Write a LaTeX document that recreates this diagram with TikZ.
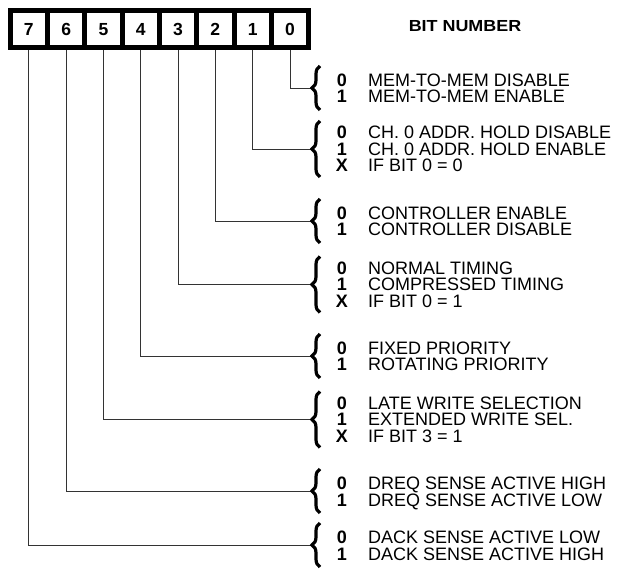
\documentclass[tikz,border=0pt]{standalone}
\usepackage{fontspec}
\setmainfont{Liberation Sans}
\newfontfamily\titlefont{Liberation Sans}[FakeStretch=1.12]
\usetikzlibrary{decorations.pathreplacing}
\tikzset{
	regcell/.style={draw, line width=5pt, minimum width=37.3pt, minimum height=36.5pt, inner sep=0pt, font=\fontsize{17.5}{17.5}\selectfont\bfseries},
	bitval/.style={anchor=base, inner sep=0pt, font=\fontsize{18}{18}\selectfont\bfseries},
	bitdesc/.style={anchor=base west, inner sep=0pt, font=\fontsize{18}{18}\selectfont},
	lead/.style={line width=0.9pt, color=black!80},
	curly/.style={decorate, decoration={brace, amplitude=8pt}, line width=3.2pt},
}
\begin{document}
\begin{tikzpicture}[x=1pt, y=-1pt]
		%%%%% START %%%%%
		\useasboundingbox (0, 0) rectangle (619, 569);
		
		% register cells
		\node[regcell] (b7) at (28.85, 29.25) {7};
		\node[regcell] (b6) at (66.15, 29.25) {6};
		\node[regcell] (b5) at (103.45, 29.25) {5};
		\node[regcell] (b4) at (140.75, 29.25) {4};
		\node[regcell] (b3) at (178.05, 29.25) {3};
		\node[regcell] (b2) at (215.35, 29.25) {2};
		\node[regcell] (b1) at (252.65, 29.25) {1};
		\node[regcell] (b0) at (289.95, 29.25) {0};
		
		\node[anchor=base, inner sep=0pt, font=\titlefont\fontsize{16}{16}\selectfont\bfseries] (title) at (465, 32) {BIT NUMBER};
		
		% brace tips
		\coordinate (t0) at (312, 88);
		\coordinate (t1) at (312, 149);
		\coordinate (t2) at (312, 221);
		\coordinate (t3) at (312, 284.5);
		\coordinate (t4) at (312, 356);
		\coordinate (t5) at (312, 419.5);
		\coordinate (t6) at (312, 491);
		\coordinate (t7) at (312, 545);
		
		\draw[lead] (b0.south) |- (t0);
		\draw[lead] (b1.south) |- (t1);
		\draw[lead] (b2.south) |- (t2);
		\draw[lead] (b3.south) |- (t3);
		\draw[lead] (b4.south) |- (t4);
		\draw[lead] (b5.south) |- (t5);
		\draw[lead] (b6.south) |- (t6);
		\draw[lead] (b7.south) |- (t7);
		
		\draw[curly] (320, 110) -- (320, 66);
		\draw[curly] (320, 177) -- (320, 121);
		\draw[curly] (320, 243) -- (320, 199);
		\draw[curly] (320, 312.5) -- (320, 256.5);
		\draw[curly] (320, 378) -- (320, 334);
		\draw[curly] (320, 447.5) -- (320, 391.5);
		\draw[curly] (320, 513) -- (320, 469);
		\draw[curly] (320, 567) -- (320, 523);
		
		% bit 0
		\node[bitval] (v00) at (342, 86.5) {0};
		\node[bitdesc] (d00) at (368, 86.5) {MEM-TO-MEM DISABLE};
		\node[bitval] (v01) at (342, 103) {1};
		\node[bitdesc] (d01) at (368, 103) {MEM-TO-MEM ENABLE};
		
		% bit 1
		\node[bitval] (v10) at (342, 139) {0};
		\node[bitdesc] (d10) at (368, 139) {CH. 0 ADDR. HOLD DISABLE};
		\node[bitval] (v11) at (342, 155.5) {1};
		\node[bitdesc] (d11) at (368, 155.5) {CH. 0 ADDR. HOLD ENABLE};
		\node[bitval] (v12) at (342, 172) {X};
		\node[bitdesc] (d12) at (368, 172) {IF BIT 0 = 0};
		
		% bit 2
		\node[bitval] (v20) at (342, 219.5) {0};
		\node[bitdesc] (d20) at (368, 219.5) {CONTROLLER ENABLE};
		\node[bitval] (v21) at (342, 236) {1};
		\node[bitdesc] (d21) at (368, 236) {CONTROLLER DISABLE};
		
		% bit 3
		\node[bitval] (v30) at (342, 274.5) {0};
		\node[bitdesc] (d30) at (368, 274.5) {NORMAL TIMING};
		\node[bitval] (v31) at (342, 291) {1};
		\node[bitdesc] (d31) at (368, 291) {COMPRESSED TIMING};
		\node[bitval] (v32) at (342, 307.5) {X};
		\node[bitdesc] (d32) at (368, 307.5) {IF BIT 0 = 1};
		
		% bit 4
		\node[bitval] (v40) at (342, 354.5) {0};
		\node[bitdesc] (d40) at (368, 354.5) {FIXED PRIORITY};
		\node[bitval] (v41) at (342, 371) {1};
		\node[bitdesc] (d41) at (368, 371) {ROTATING PRIORITY};
		
		% bit 5
		\node[bitval] (v50) at (342, 409.5) {0};
		\node[bitdesc] (d50) at (368, 409.5) {LATE WRITE SELECTION};
		\node[bitval] (v51) at (342, 426) {1};
		\node[bitdesc] (d51) at (368, 426) {EXTENDED WRITE SEL.};
		\node[bitval] (v52) at (342, 442.5) {X};
		\node[bitdesc] (d52) at (368, 442.5) {IF BIT 3 = 1};
		
		% bit 6
		\node[bitval] (v60) at (342, 489.5) {0};
		\node[bitdesc] (d60) at (368, 489.5) {DREQ SENSE ACTIVE HIGH};
		\node[bitval] (v61) at (342, 506) {1};
		\node[bitdesc] (d61) at (368, 506) {DREQ SENSE ACTIVE LOW};
		
		% bit 7
		\node[bitval] (v70) at (342, 543.5) {0};
		\node[bitdesc] (d70) at (368, 543.5) {DACK SENSE ACTIVE LOW};
		\node[bitval] (v71) at (342, 560) {1};
		\node[bitdesc] (d71) at (368, 560) {DACK SENSE ACTIVE HIGH};
		
		%%%%% END %%%%%
	\end{tikzpicture}
\end{document}
